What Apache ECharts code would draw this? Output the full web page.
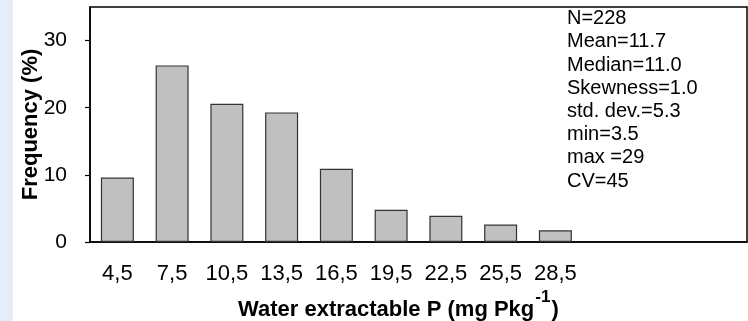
<!DOCTYPE html>
<html>
<head>
<meta charset="utf-8">
<script src="https://cdn.jsdelivr.net/npm/echarts@6/dist/echarts.min.js"></script>
<style>
  html, body { margin: 0; padding: 0; background: #fff; }
  #chart { width: 748px; height: 321px; }
</style>
</head>
<body>
<div id="chart"></div>
<script>
  // class midpoints (mg P kg-1); the last three slots are empty room on the axis
  var classLabels = ['4,5', '7,5', '10,5', '13,5', '16,5', '19,5', '22,5', '25,5', '28,5'];
  var emptySlots = [' ', '  ', '   '];
  // frequency in %
  var frequency = [9.6, 26.3, 20.6, 19.3, 10.9, 4.8, 3.9, 2.6, 1.75];
  var yTicks = [0, 10, 20, 30];
  var stats = ['N=228', 'Mean=11.7', 'Median=11.0', 'Skewness=1.0', 'std. dev.=5.3', 'min=3.5', 'max =29', 'CV=45'];

  var font = 'Liberation Sans, Arial, sans-serif';
  var myChart = echarts.init(document.getElementById('chart'));
  var option = {
    animation: false,
    grid: {
      left: 90, top: 7, right: 1, bottom: 79,
      show: true,
      borderColor: '#000',
      borderWidth: 1.5,
      backgroundColor: 'transparent'
    },
    xAxis: {
      type: 'category',
      data: classLabels.concat(emptySlots),
      boundaryGap: true,
      axisLine: { lineStyle: { color: '#000', width: 1.5 } },
      axisTick: {
        alignWithLabel: true,
        length: 5,
        lineStyle: { color: '#000', width: 1.2 },
        interval: function (index) { return index < classLabels.length; }
      },
      axisLabel: {
        interval: 0,
        hideOverlap: false,
        margin: 21,
        color: '#000',
        fontFamily: font,
        fontSize: 22
      },
      splitLine: { show: false }
    },
    yAxis: {
      type: 'value',
      min: 0,
      max: 35,
      name: 'Frequency (%)',
      nameLocation: 'middle',
      nameRotate: 90,
      nameGap: 48,
      nameMoveOverlap: false,
      nameTextStyle: { color: '#000', fontFamily: font, fontSize: 22, fontWeight: 'bold' },
      axisLine: { show: true, lineStyle: { color: '#000', width: 1.5 } },
      axisTick: { show: true, length: 5, customValues: yTicks, lineStyle: { color: '#000', width: 1.2 } },
      axisLabel: { customValues: yTicks, margin: 23, color: '#000', fontFamily: font, fontSize: 21 },
      splitLine: { show: false }
    },
    graphic: [
      {
        type: 'rect', left: 0, top: 0, z: -10,
        shape: { width: 13, height: 321 },
        style: { fill: '#e4eef9' }
      },
      {
        type: 'text', left: 567, top: 7,
        style: {
          text: stats.join('\n'),
          fill: '#000',
          font: '20px ' + font,
          lineHeight: 23.2
        }
      },
      {
        type: 'text', left: 238, top: 289,
        style: {
          text: '{a|Water extractable P (mg Pkg}{s|-1}{a|)}',
          fill: '#000',
          rich: {
            a: { fontFamily: font, fontSize: 22, fontWeight: 'bold', lineHeight: 32, verticalAlign: 'bottom' },
            s: { fontFamily: font, fontSize: 17, fontWeight: 'bold', lineHeight: 32, verticalAlign: 'top', padding: [0, 1, 0, 1] }
          }
        }
      }
    ],
    series: [
      {
        type: 'bar',
        data: frequency,
        barWidth: 33,
        itemStyle: { color: '#c0c0c0', borderColor: '#333', borderWidth: 1.2 }
      }
    ]
  };
  myChart.setOption(option);
</script>
</body>
</html>
